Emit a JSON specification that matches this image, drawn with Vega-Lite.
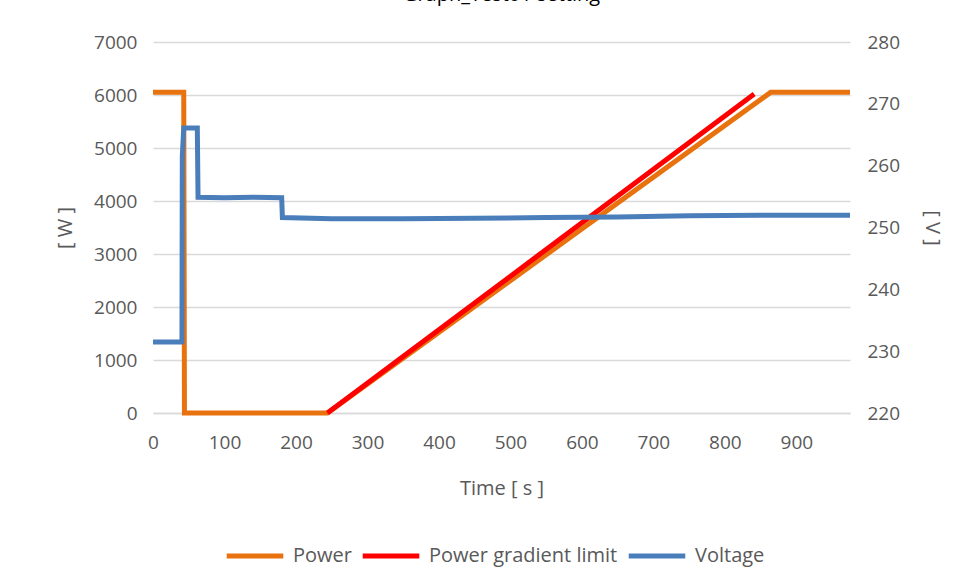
{
  "$schema": "https://vega.github.io/schema/vega-lite/v6.json",
  "autosize": "none",
  "width": 697,
  "height": 371,
  "padding": {"left": 153, "top": 42, "right": 125, "bottom": 172},
  "background": "white",
  "title": {
    "text": "Graph_Test01 setting",
    "anchor": "middle",
    "offset": 28,
    "font": "Open Sans",
    "fontSize": 20,
    "fontWeight": "normal",
    "color": "#000000"
  },
  "config": {
    "font": "Open Sans",
    "view": {"stroke": null},
    "axis": {
      "labelFont": "Open Sans",
      "labelFontSize": 19,
      "labelColor": "#595959",
      "labelFlush": false,
      "format": "d",
      "titleFont": "Open Sans",
      "titleFontSize": 20,
      "titleFontWeight": "normal",
      "titleColor": "#595959",
      "ticks": false,
      "gridColor": "#D9D9D9",
      "gridWidth": 1.3
    },
    "legend": {
      "labelFont": "Open Sans",
      "labelFontSize": 20,
      "labelColor": "#595959",
      "labelLimit": 400
    }
  },
  "datasets": {
    "power": [
      {"t": 0, "value": 6050, "series": "Power"},
      {"t": 43, "value": 6050, "series": "Power"},
      {"t": 44, "value": 0, "series": "Power"},
      {"t": 244, "value": 0, "series": "Power"},
      {"t": 864, "value": 6050, "series": "Power"},
      {"t": 975, "value": 6050, "series": "Power"},
      {"t": 244, "value": 0, "series": "Power gradient limit"},
      {"t": 841, "value": 6020, "series": "Power gradient limit"}
    ],
    "voltage": [
      {"t": 0, "v": 231.5, "series": "Voltage"},
      {"t": 40.5, "v": 231.5, "series": "Voltage"},
      {"t": 41, "v": 261.5, "series": "Voltage"},
      {"t": 43, "v": 266.1, "series": "Voltage"},
      {"t": 62, "v": 266.1, "series": "Voltage"},
      {"t": 63, "v": 254.9, "series": "Voltage"},
      {"t": 100, "v": 254.8, "series": "Voltage"},
      {"t": 140, "v": 254.9, "series": "Voltage"},
      {"t": 180, "v": 254.8, "series": "Voltage"},
      {"t": 181, "v": 251.6, "series": "Voltage"},
      {"t": 250, "v": 251.4, "series": "Voltage"},
      {"t": 350, "v": 251.4, "series": "Voltage"},
      {"t": 450, "v": 251.5, "series": "Voltage"},
      {"t": 550, "v": 251.6, "series": "Voltage"},
      {"t": 650, "v": 251.7, "series": "Voltage"},
      {"t": 750, "v": 251.9, "series": "Voltage"},
      {"t": 850, "v": 252.0, "series": "Voltage"},
      {"t": 975, "v": 252.0, "series": "Voltage"}
    ]
  },
  "layer": [
    {
      "data": {"name": "power"},
      "mark": {"type": "line", "strokeWidth": 5, "strokeJoin": "miter"},
      "encoding": {
        "x": {
          "field": "t",
          "type": "quantitative",
          "scale": {"domain": [0, 975], "nice": false},
          "axis": {
            "title": "Time [ s ]",
            "values": [0, 100, 200, 300, 400, 500, 600, 700, 800, 900],
            "grid": false,
            "domainColor": "#D9D9D9",
            "domainWidth": 1.3,
            "labelPadding": 20,
            "titlePadding": 26
          }
        },
        "y": {
          "field": "value",
          "type": "quantitative",
          "scale": {"domain": [0, 7000], "nice": false},
          "axis": {
            "title": "[ W ]",
            "values": [0, 1000, 2000, 3000, 4000, 5000, 6000, 7000],
            "domain": false,
            "labelPadding": 16,
            "titlePadding": 18
          }
        },
        "color": {
          "field": "series",
          "type": "nominal",
          "scale": {
            "domain": ["Power", "Power gradient limit", "Voltage"],
            "range": ["#E8720E", "#FF0000", "#4A7EBB"]
          },
          "legend": {
            "title": null,
            "orient": "none",
            "direction": "horizontal",
            "legendX": 71,
            "legendY": 483,
            "symbolType": "stroke",
            "symbolSize": 3200,
            "symbolStrokeWidth": 5,
            "labelOffset": 7,
            "columnPadding": 0
          }
        }
      }
    },
    {
      "data": {"name": "voltage"},
      "mark": {"type": "line", "strokeWidth": 5, "strokeJoin": "miter"},
      "encoding": {
        "x": {"field": "t", "type": "quantitative"},
        "y": {
          "field": "v",
          "type": "quantitative",
          "scale": {"domain": [220, 280], "nice": false},
          "axis": {
            "orient": "right",
            "title": "[ V ]",
            "values": [220, 230, 240, 250, 260, 270, 280],
            "grid": false,
            "domain": false,
            "labelPadding": 17,
            "titlePadding": 22
          }
        },
        "color": {"field": "series", "type": "nominal"}
      }
    }
  ],
  "resolve": {"scale": {"y": "independent"}}
}
